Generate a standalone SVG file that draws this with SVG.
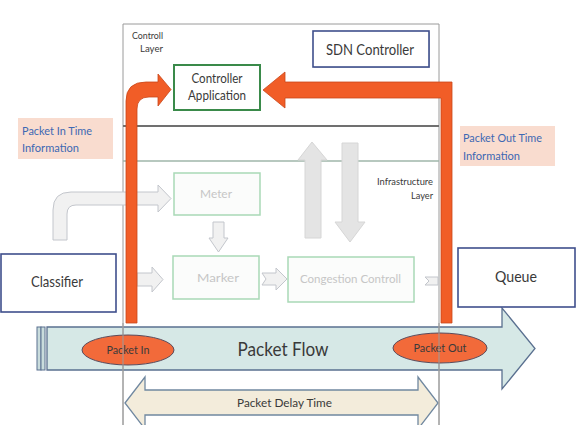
<svg xmlns="http://www.w3.org/2000/svg" width="579" height="425" viewBox="0 0 579 425">
<style>
text{font-family:Lato,"Open Sans","Liberation Sans",sans-serif;fill:#3a3a3a}
.frame{fill:none;stroke:#9a9a9a;stroke-width:1}
.navy{fill:#fff;stroke:#3f4f8c;stroke-width:1.6}
.fbox{fill:#fbfcfb;stroke:#a9d9b6;stroke-width:1.5}
.ftxt{fill:#c6c6c6;font-size:11px}
.farrow{fill:#f1f1f1;stroke:#c3c6cc;stroke-width:1}
.garrow{fill:#e4e4e4;stroke:#d6d6d6;stroke-width:1}
.orange{fill:#f15d27;stroke:#c9481a;stroke-width:0.8}
.info{fill:#f9dccf}
.infot{fill:#3d68b3;font-size:10.5px}
.small{font-size:9px}
</style>
<rect width="579" height="425" fill="#fff"/>

<g id="packet-flow">
<rect x="37" y="327" width="4" height="43" fill="#c9dcdc" stroke="#5a7090" stroke-width="1"/>
<rect x="41" y="327" width="4" height="43" fill="#c9dcdc" stroke="#5a7090" stroke-width="1"/>
<path d="M47,327 H502 V308 L535,348.5 L502,389 V370 H47 Z" fill="#d6e8e6" stroke="#5a7090" stroke-width="1.3"/>
<text x="283" y="356" font-size="20" text-anchor="middle" textLength="91" lengthAdjust="spacingAndGlyphs">Packet Flow</text>
</g>

<g id="packet-delay-time">
<path d="M125,403 L145,377 V390 H418 V377 L438,403 L418,429 V415 H145 V429 Z" fill="#f3ecdb" stroke="#7088a0" stroke-width="1.3"/>
<text x="284.5" y="407" font-size="11" text-anchor="middle" textLength="95" lengthAdjust="spacingAndGlyphs">Packet Delay Time</text>
</g>

<g id="frame">
<line class="frame" x1="123" y1="24" x2="439" y2="24"/>
<line class="frame" x1="123" y1="24" x2="123" y2="425"/>
<line class="frame" x1="439" y1="24" x2="439" y2="425"/>
<line x1="123" y1="126" x2="439" y2="126" stroke="#707070" stroke-width="2"/>
<line x1="123" y1="161" x2="439" y2="161" stroke="#9fb6aa" stroke-width="1.3"/>
</g>

<g id="control-layer-label">
<text class="small" x="163" y="39" text-anchor="end" textLength="31" lengthAdjust="spacingAndGlyphs">Controll</text>
<text class="small" x="163" y="52" text-anchor="end" textLength="23" lengthAdjust="spacingAndGlyphs">Layer</text>
</g>

<g id="infrastructure-layer-label">
<text class="small" x="433" y="185" text-anchor="end" textLength="56" lengthAdjust="spacingAndGlyphs">Infrastructure</text>
<text class="small" x="433" y="199" text-anchor="end" textLength="22" lengthAdjust="spacingAndGlyphs">Layer</text>
</g>

<g id="sdn-controller">
<rect x="314" y="32" width="116" height="36" fill="#c8cbd8"/>
<rect class="navy" x="313" y="31" width="116" height="36" stroke-width="2"/>
<text x="370" y="55" font-size="16" text-anchor="middle" textLength="88" lengthAdjust="spacingAndGlyphs">SDN Controller</text>
</g>

<g id="controller-application">
<rect x="174" y="65" width="86" height="45" fill="#fff" stroke="#3a8a4a" stroke-width="2"/>
<text x="217" y="83" font-size="13" text-anchor="middle" textLength="51" lengthAdjust="spacingAndGlyphs">Controller</text>
<text x="217" y="100" font-size="13" text-anchor="middle" textLength="58" lengthAdjust="spacingAndGlyphs">Application</text>
</g>

<g id="packet-in-time-info">
<rect class="info" x="18" y="118" width="95" height="41"/>
<text class="infot" x="22" y="135" textLength="70" lengthAdjust="spacingAndGlyphs">Packet In Time</text>
<text class="infot" x="22" y="152" textLength="57" lengthAdjust="spacingAndGlyphs">Information</text>
</g>

<g id="packet-out-time-info">
<rect class="info" x="460" y="126" width="95" height="40"/>
<text class="infot" x="463" y="142" textLength="79" lengthAdjust="spacingAndGlyphs">Packet Out Time</text>
<text class="infot" x="463" y="160" textLength="57" lengthAdjust="spacingAndGlyphs">Information</text>
</g>

<g id="meter">
<rect class="fbox" x="174" y="173" width="86" height="42"/>
<text class="ftxt" x="216" y="198" text-anchor="middle" textLength="32" lengthAdjust="spacingAndGlyphs">Meter</text>
</g>

<g id="marker">
<rect class="fbox" x="173" y="256" width="86" height="43"/>
<text class="ftxt" x="218" y="282" text-anchor="middle" textLength="42" lengthAdjust="spacingAndGlyphs">Marker</text>
</g>

<g id="congestion-controll">
<rect class="fbox" x="288" y="257" width="126" height="45"/>
<text class="ftxt" x="350.5" y="283" text-anchor="middle" textLength="101" lengthAdjust="spacingAndGlyphs">Congestion Controll</text>
</g>

<g id="classifier">
<rect class="navy" x="1" y="254" width="115" height="58"/>
<text x="57" y="287" font-size="15" text-anchor="middle" textLength="52" lengthAdjust="spacingAndGlyphs">Classifier</text>
</g>

<g id="queue">
<rect class="navy" x="458" y="248" width="117" height="59"/>
<text x="516" y="282" font-size="15" text-anchor="middle" textLength="42" lengthAdjust="spacingAndGlyphs">Queue</text>
</g>

<g id="connectors">
<path class="farrow" d="M53,240 V210 Q53,192 71,192 H158 V185 L171,198.5 L158,212 V205 H76 Q67,205 67,214 V240 Z"/>
<path class="farrow" d="M213,222 H224 V238 H228 L218.5,252 L209,238 H213 Z"/>
<path class="farrow" d="M137,273 H152 V267 L163,279.5 L152,292 V286 H137 Z"/>
<path class="farrow" d="M262,273 H276 V268 L287,279 L276,290 V285 H262 L266,279 Z"/>
<path class="farrow" d="M425,277 H438 V285 H425 L429,281 Z"/>
<path class="garrow" d="M305,238 V160 H298 L312,142 L327,160 H321 V238 Z"/>
<path class="garrow" d="M342,143 H358 V222 H365 L350,242 L335,222 H342 Z"/>
<path class="orange" d="M126,323 V101 Q126,82 146,82 H158 V74 L171,89.5 L158,106 V97 H149 Q137,97 137,109 V323 Z"/>
<path class="orange" d="M441,323 H452 V82 H285 V72 L263,90 L285,108 V98 H441 Z"/>
</g>

<g id="packet-in">
<ellipse cx="128" cy="350" rx="46" ry="15" fill="#f26a3a" stroke="#5a4a5a" stroke-width="1"/>
<text x="128" y="353.5" font-size="11" text-anchor="middle" textLength="43" lengthAdjust="spacingAndGlyphs">Packet In</text>
</g>

<g id="packet-out">
<ellipse cx="440" cy="348" rx="47" ry="15" fill="#f26a3a" stroke="#5a4a5a" stroke-width="1"/>
<text x="440" y="352" font-size="11" text-anchor="middle" textLength="53" lengthAdjust="spacingAndGlyphs">Packet Out</text>
</g>

<g id="frame-overlay">
<line class="frame" x1="123" y1="323" x2="123" y2="425"/>
<line class="frame" x1="439" y1="323" x2="439" y2="425"/>
</g>
</svg>
